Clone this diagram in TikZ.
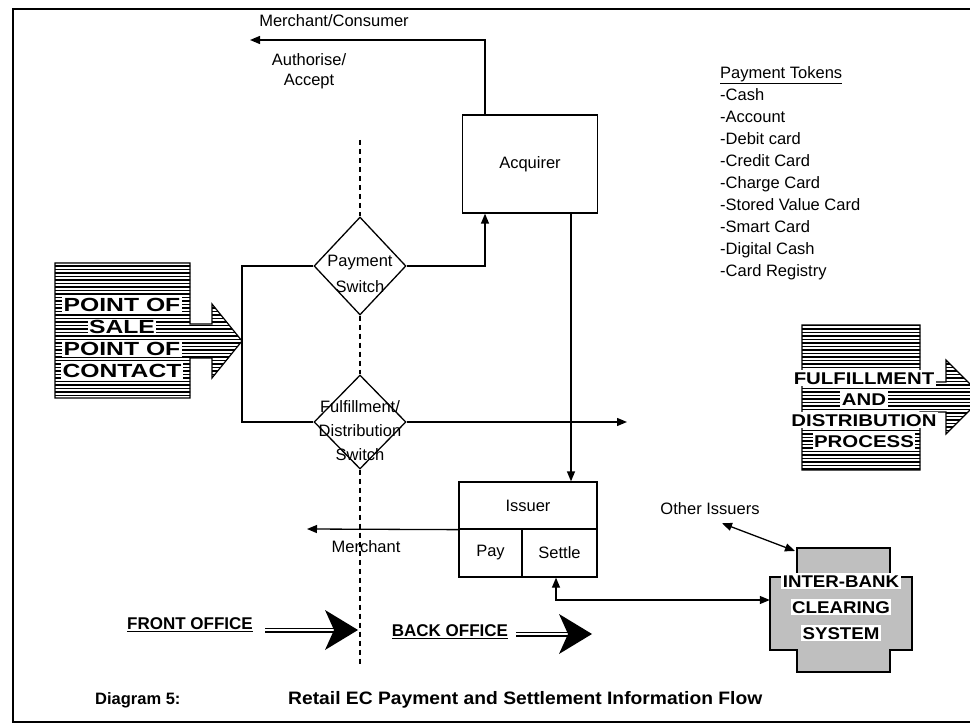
\documentclass[tikz,border=0pt]{standalone}
\usepackage{fontspec}
\setmainfont{Liberation Sans}
\usetikzlibrary{arrows.meta,shapes.geometric}

% horizontally hatched block arrow
\newcommand{\hatchshape}[3]{% #1 path, #2 first row, #3 last row
  \begin{scope}
    \clip #1;
    \fill[white] #1;
    \foreach \yy in {#2,...,#3}{
      \draw[line width=1.2pt] (0,\yy*3.5) -- (970,\yy*3.5);
    }
  \end{scope}
  \draw[line width=1.2pt] #1;
}

\begin{document}
\begin{tikzpicture}[x=1pt,y=-1pt,
  every node/.style={font=\fontsize{16.5}{20}\selectfont, inner sep=0pt},
  boxnode/.style={draw, line width=1.3pt, inner sep=0pt},
  switchbox/.style={draw, diamond, line width=1.3pt, inner sep=0pt},
  conn/.style={line width=1.3pt},
  arr/.style={conn, -{Triangle[length=10pt,width=8pt]}},
  darr/.style={conn, {Triangle[length=10pt,width=8pt]}-{Triangle[length=10pt,width=8pt]}},
  divider/.style={line width=1.6pt, dash pattern=on 5pt off 4pt},
  dshaft/.style={line width=1.6pt, double, double distance=1.8pt},
  haloline/.style={fill=white, inner xsep=1.5pt, inner ysep=1.5pt, text depth=0pt},
  posline/.style={haloline, text height=13.5pt, font=\fontsize{19}{22}\bfseries\selectfont},
  fdpline/.style={haloline, text height=12.2pt, font=\fontsize{17}{21}\bfseries\selectfont},
  ibline/.style={haloline, text height=12.2pt, font=\fontsize{17}{21}\bfseries\selectfont},
  officetext/.style={font=\fontsize{17}{20}\bfseries\selectfont},
]
\useasboundingbox (0,0) rectangle (970,727);

% frame
\draw[line width=2pt] (970,9) -- (13,9) -- (13,722) -- (970,722);

% acquirer and the authorisation return path
\node[boxnode, minimum width=135pt, minimum height=98pt] (acq) at (530,164) {Acquirer};
\coordinate (mctip) at (250,40);
\draw[arr] ([xshift=-45pt]acq.north) |- (mctip);
\node (mc) at (334,21) {Merchant/Consumer};
\node[align=center, font=\fontsize{16.5}{20}\selectfont] (auth) at (309,71) {Authorise/\\Accept};

% payment tokens
\node[anchor=north west, align=left, font=\fontsize{16.5}{22}\selectfont] (tok) at (720,66)
  {\underline{Payment Tokens}\\-Cash\\-Account\\-Debit card\\-Credit Card\\-Charge Card\\-Stored Value Card\\-Smart Card\\-Digital Cash\\-Card Registry};

% switches
\node[switchbox, minimum width=92pt, minimum height=98pt] (pay) at (360,266) {};
\node[align=center, font=\fontsize{16.5}{26}\selectfont] (payt) at (360,274) {Payment\\Switch};
\node[switchbox, minimum width=92pt, minimum height=94pt] (ful) at (360,422) {};
\node[align=center, font=\fontsize{16.5}{24}\selectfont] (fult) at (360,431) {Fulfillment/\\Distribution\\Switch};

% front / back office divider
\coordinate (divtop) at (360,140);
\coordinate (divbot) at (360,665);
\draw[divider] (divtop) -- (pay.north);
\draw[divider] (pay.south) -- (ful.north);
\draw[divider] (ful.south) -- (divbot);

% point of sale block arrow
\hatchshape{(55,263) -- (190,263) -- (190,324) -- (212,324) -- (212,304) -- (242,341) -- (212,378) -- (212,358) -- (190,358) -- (190,398) -- (55,398) -- cycle}{75}{114}
\node[posline] (pos1) at (122,305) {\scalebox{1.3}[1]{POINT OF}};
\node[posline] (pos2) at (122,327) {\scalebox{1.3}[1]{SALE}};
\node[posline] (pos3) at (122,349) {\scalebox{1.3}[1]{POINT OF}};
\node[posline] (pos4) at (122,371) {\scalebox{1.3}[1]{CONTACT}};

% fulfilment block arrow
\hatchshape{(802,325) -- (920,325) -- (920,382) -- (946,382) -- (946,360) -- (983,397) -- (946,434) -- (946,412) -- (920,412) -- (920,470) -- (802,470) -- cycle}{92}{135}
\node[fdpline] (fdp1) at (864,378) {\scalebox{1.2}[1]{FULFILLMENT}};
\node[fdpline] (fdp2) at (864,399) {\scalebox{1.2}[1]{AND}};
\node[fdpline] (fdp3) at (864,420) {\scalebox{1.2}[1]{DISTRIBUTION}};
\node[fdpline] (fdp4) at (864,441) {\scalebox{1.2}[1]{PROCESS}};

% switch connections
\coordinate (bus1) at (242,266);
\coordinate (bus2) at (242,422);
\coordinate (ftip) at (627,422);
\draw[conn] (pay.west) -- (bus1) -- (bus2) -- (ful.west);
\draw[arr] (pay.east) -| ([xshift=-45pt]acq.south);
\draw[arr] (ful.east) -- (ftip);

% issuer
\node[boxnode, minimum width=138pt, minimum height=47pt] (isst) at (528,505.5) {Issuer};
\node[boxnode, minimum width=63pt, minimum height=48pt] (payc) at (490.5,553) {Pay};
\node[boxnode, minimum width=75pt, minimum height=48pt] (setc) at (559.5,553) {Settle};
\draw[arr] ([xshift=41pt]acq.south) -- ([xshift=41pt]acq.south |- isst.north);
\coordinate (mtip) at (307,529);
\draw[arr] (isst.south west) -- (mtip);
\node (merch) at (366,547) {Merchant};

% inter-bank clearing system
\draw[line width=1.2pt, fill=black!25] (797,548) -- (890,548) -- (890,577) -- (912,577) -- (912,650) -- (890,650) -- (890,672) -- (797,672) -- (797,650) -- (770,650) -- (770,577) -- (797,577) -- cycle;
\node[minimum width=142pt, minimum height=73pt] (ibank) at (841,613.5) {};
\node[ibline] (ib1) at (841,581) {\scalebox{1.1}[1]{INTER-BANK}};
\node[ibline] (ib2) at (841,607) {\scalebox{1.1}[1]{CLEARING}};
\node[ibline] (ib3) at (841,633) {\scalebox{1.1}[1]{SYSTEM}};
\draw[darr] ([xshift=-3.5pt]setc.south) |- ([yshift=13.5pt]ibank.west);

\node (oi) at (710,509) {Other Issuers};
\coordinate (ibcorner) at (795,551);
\draw[darr] ([xshift=12pt,yshift=-8pt]oi.south) -- (ibcorner);

% office labels
\node[officetext] (fo) at (190,625) {\underline{FRONT OFFICE}};
\node[officetext] (bo) at (450,632) {\underline{BACK OFFICE}};
\coordinate (fotip) at (358,630);
\coordinate (botip) at (592,634);
\draw[dshaft] ([xshift=12pt]fo.east |- fotip) -- ([xshift=-24pt]fotip);
\fill (fotip) -- ++(-33,-20) -- ++(9,20) -- ++(-9,20) -- cycle;
\draw[dshaft] ([xshift=8pt]bo.east |- botip) -- ([xshift=-24pt]botip);
\fill (botip) -- ++(-33,-20) -- ++(9,20) -- ++(-9,20) -- cycle;

% caption
\node[anchor=west, font=\fontsize{16.5}{20}\bfseries\selectfont] (cap1) at (95,700) {Diagram 5:};
\node[anchor=west, font=\fontsize{18}{20}\bfseries\selectfont] (cap2) at (288,700) {\scalebox{1.07}[1]{Retail EC Payment and Settlement Information Flow}};
\end{tikzpicture}
\end{document}
